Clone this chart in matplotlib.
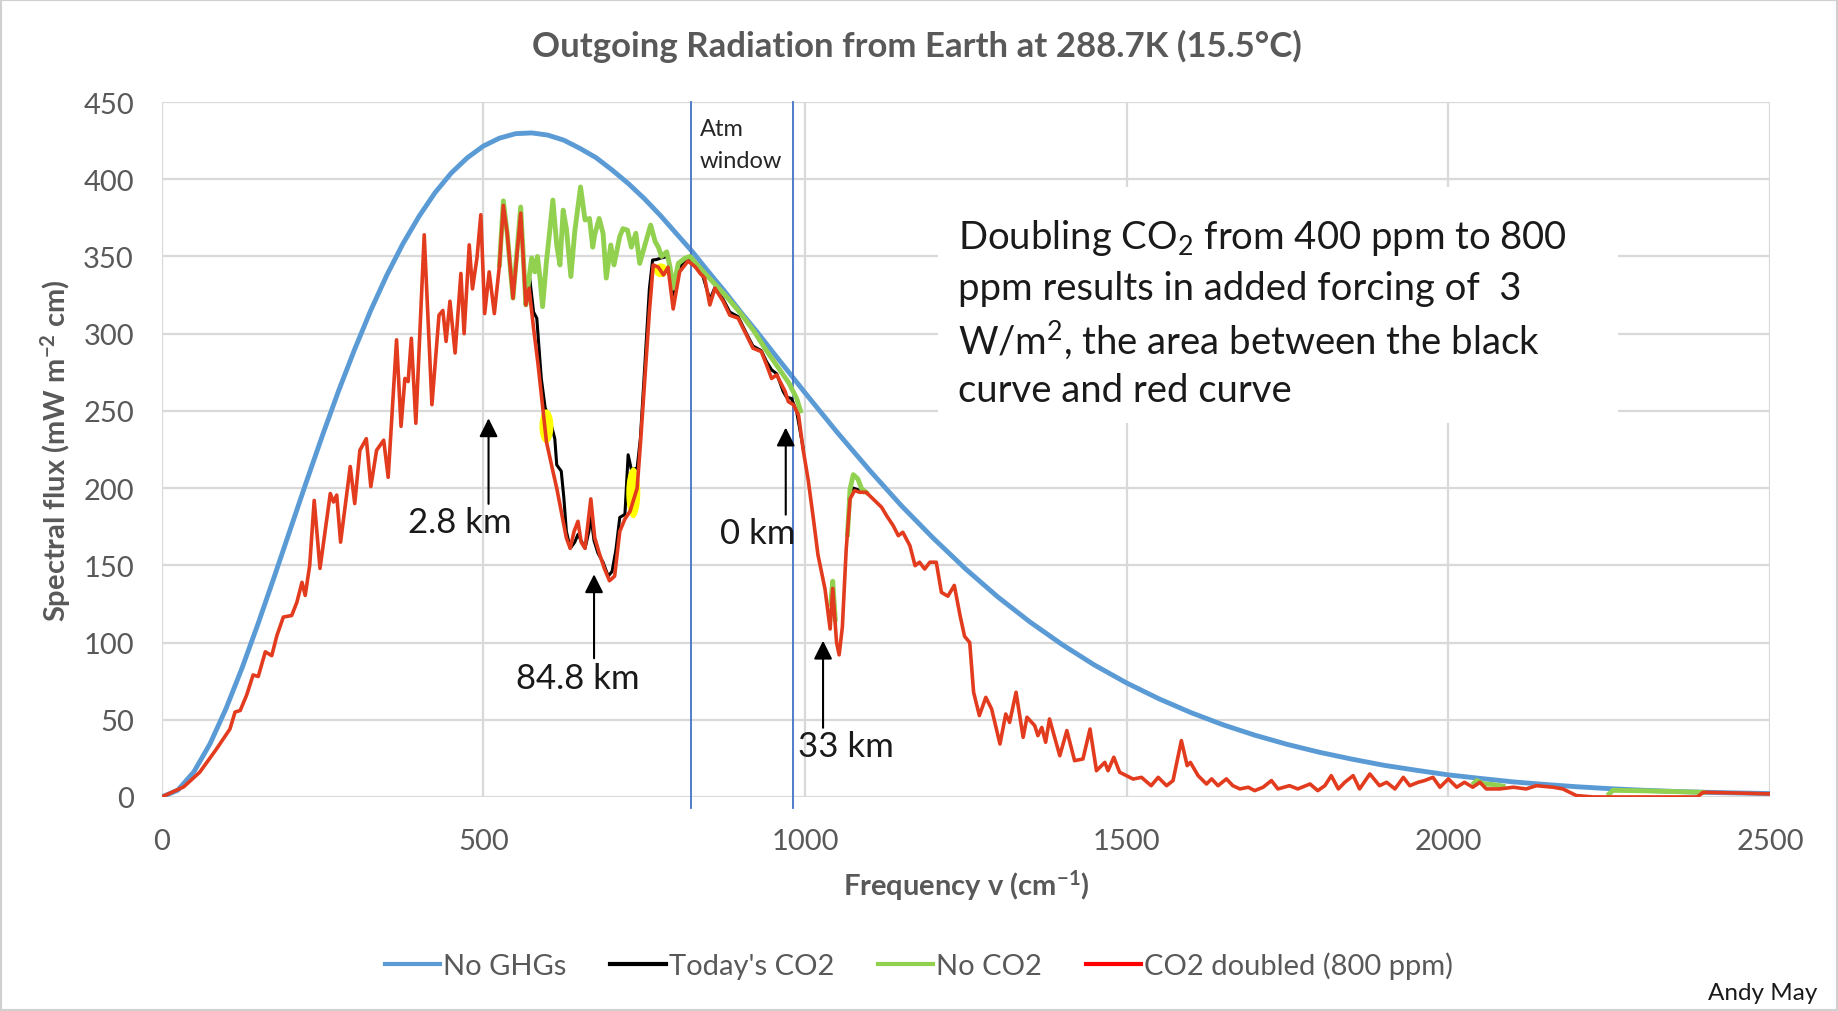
import numpy as np
import matplotlib
matplotlib.use("Agg")
import matplotlib.pyplot as plt
from matplotlib.lines import Line2D
from matplotlib.patches import Rectangle
from matplotlib.path import Path

plt.rcParams['font.family'] = ['Lato', 'DejaVu Sans']
plt.rcParams['mathtext.fontset'] = 'custom'
plt.rcParams['mathtext.rm'] = 'Lato'
plt.rcParams['mathtext.it'] = 'Lato:italic'
plt.rcParams['mathtext.bf'] = 'Lato:bold'

# --- data (frequency in cm-1, flux in mW m-2 cm) ---
blue_x = [0, 25, 50, 75, 100, 125, 150, 175, 200, 225, 250, 275, 300, 325, 350, 375,
          400, 425, 450, 475, 500, 525, 550, 575, 600, 625, 650, 675, 700, 725, 750,
          775, 800, 825, 850, 875, 900, 925, 950, 975, 1000, 1050, 1100, 1150, 1200,
          1250, 1300, 1350, 1400, 1450, 1500, 1550, 1600, 1650, 1700, 1750, 1800,
          1850, 1900, 1950, 2000, 2050, 2100, 2150, 2200, 2250, 2300, 2350, 2400,
          2450, 2500]
blue_y = [0, 4.4, 16.3, 34.4, 57.3, 83.7, 112.5, 142.7, 173.5, 204.3, 234.3, 263.1,
          290, 315.2, 338, 358.3, 376, 391.4, 404, 413.9, 421.5, 426.6, 429.5, 430,
          428.6, 425.3, 420, 414, 406, 397.3, 387.5, 376.6, 364.8, 353, 340, 327.4,
          314, 301.3, 288, 274.9, 261.7, 236.1, 211.7, 188.5, 167.3, 147.5, 129.4,
          113.2, 98.6, 85.4, 73.8, 63.6, 54.6, 46.7, 39.9, 34, 28.9, 24.5, 20.5, 17.3,
          14.3, 12, 9.8, 8.1, 6.6, 5.4, 4.4, 3.6, 3.0, 2.6, 2.2]

red_x = [0, 34, 59, 85, 106, 114, 122, 132, 142, 150, 161, 171, 179, 189, 202, 210,
         218, 223, 230, 237, 246, 262, 267, 272, 278, 293, 300, 308, 318, 325, 334,
         345, 352, 365, 372, 378, 383, 388, 395, 408, 420, 431, 437, 442, 448, 456,
         465, 470, 478, 483, 490, 496, 502, 509, 517, 525, 531, 537, 546, 558, 566,
         571, 578, 585, 593, 598, 608, 614, 621, 629, 635, 641, 647, 652, 658, 667,
         673, 680, 688, 696, 704, 712, 720, 728, 739, 744, 751, 758, 764, 772, 780,
         787, 795, 805, 818, 829, 837, 844, 852, 860, 873, 883, 896, 909, 919, 932,
         940, 948, 956, 969, 974, 982, 990, 997, 1005, 1013, 1020, 1031, 1039, 1043,
         1049, 1053, 1058, 1064, 1070, 1077, 1085, 1095, 1108, 1119, 1127, 1137,
         1145, 1152, 1163, 1171, 1178, 1186, 1194, 1204, 1212, 1222, 1232, 1241,
         1248, 1256, 1262, 1271, 1281, 1290, 1303, 1312, 1318, 1328, 1339, 1345,
         1357, 1362, 1368, 1374, 1380, 1396, 1407, 1419, 1432, 1443, 1453, 1466,
         1471, 1480, 1489, 1510, 1523, 1538, 1549, 1562, 1572, 1585, 1594, 1599,
         1611, 1624, 1632, 1642, 1655, 1665, 1676, 1689, 1699, 1712, 1725, 1735,
         1753, 1766, 1785, 1797, 1808, 1818, 1829, 1839, 1852, 1862, 1878, 1893,
         1904, 1917, 1930, 1940, 1953, 1963, 1976, 1987, 2000, 2013, 2025, 2038,
         2049, 2059, 2080, 2101, 2121, 2137, 2163, 2178, 2199, 2225, 2387, 2396,
         2443, 2500]
red_y = [0, 6.5, 16, 31, 44, 55, 56, 66, 79, 78, 94, 91.5, 104.5, 116.5, 117.5, 126,
         139, 130.5, 150, 192, 148, 196.5, 191, 195.5, 165, 214, 190, 224.5, 232, 201,
         224.5, 231, 207, 296, 240, 271, 269, 297, 242, 364, 254, 312, 315, 295, 321,
         287.5, 339, 300, 357.5, 329, 349, 377, 313, 340, 313, 344.5, 383, 365, 323,
         378, 318.6, 329.4, 303.5, 280, 249.6, 230, 211, 200, 185, 167.7, 161, 172,
         178.5, 165, 161, 193, 168, 158, 148, 140, 143, 172, 180, 185, 200, 228, 271,
         314, 344.5, 343, 338, 343, 316, 340, 347, 343.4, 339, 336, 318.6, 329.4,
         320.8, 312, 310, 299, 290.6, 288.4, 280, 271, 273.3, 262.6, 256, 254, 247,
         225, 205, 180, 157, 134.7, 108.8, 135, 100, 92, 110, 160.6, 193, 198.4,
         197.3, 197.3, 192, 187.6, 182, 175.7, 169.2, 171.4, 162.7, 149.8, 152,
         147.6, 152, 152, 132.5, 130, 137, 117.4, 104, 100, 67.8, 52.7, 64.5, 57,
         34.3, 53.7, 48.3, 67.8, 38.6, 51.6, 46.2, 39.7, 45, 35.4, 50.5, 26.7, 43,
         23.5, 24.6, 44, 17, 22.4, 17, 25.7, 16, 11.6, 12.7, 7.3, 12.7, 7.3, 10.6,
         36.5, 20.3, 22.4, 13.8, 8.4, 11.7, 7.3, 11.7, 7.3, 5.2, 6.3, 4.1, 6.3, 10.6,
         5.2, 7.3, 5.2, 8.4, 4.1, 7.3, 13.8, 5.2, 9.5, 13.8, 5.2, 14.9, 7.3, 9.5,
         5.2, 12.7, 7.3, 9.5, 10.6, 12.7, 6.3, 11.7, 6.3, 9.5, 6.3, 9.5, 5.2, 5.2,
         6.3, 5.2, 7.3, 6.3, 5.2, 0.9, 0, 0, 3, 2.6, 2]

# "Today's CO2" where it separates from the doubled curve (NaN = gap)
black_x = [566, 572, 578, 583, 590, 596, 603, 611, 614, 621, 625, 629, 635, 642, 647,
           652, 658, 664, 667, 672, 678, 686, 694, 700, 706, 712, 720, 725, 730, 739,
           744, 751, 758, 763, 769, 776, 787, 795, 805, 818, 829, 840, 852, 860, 873,
           883, 896, 909, 919, 932, 940, 948, 956, 966, 971, 979, 987, 997, np.nan,
           1068, 1075, 1082, 1090]
black_y = [318.6, 336, 314, 310, 271, 252, 245, 232, 215, 211, 194, 172, 161, 165, 170,
           166, 161, 172, 182, 166, 158, 152, 143, 146, 160, 181, 183, 221.6, 212, 213,
           232, 280, 329, 347.7, 348, 349, 350, 325, 343, 348, 345, 339, 322, 330, 322,
           314, 311, 300, 292, 289, 282, 276.6, 274, 262.6, 259, 258, 249.4, 226, np.nan,
           193, 200, 199, 197.3]

# "No CO2" where it shows above the other curves
green_x = [525, 531, 537, 546, 558, 566, 571, 575, 580, 584, 588, 592, 598, 603, 608,
           614, 619, 624, 629, 636, 642, 651, 658, 665, 670, 673, 680, 686, 691, 698,
           703, 712, 717, 724, 730, 737, 743, 754, 760, 767, 772, 777, 785, 790, 795,
           803, 813, 821, 840, 860, 880, 900, 920, 940, 960, 975, 987, 993,
           np.nan, 1040, 1043, 1047, np.nan, 1066, 1070, 1075, 1082, 1088, 1095,
           np.nan, 2040, 2044, 2055, 2070, 2085, np.nan, 2250, 2256, 2300, 2350, 2396]
green_y = [344.5, 386, 365, 323, 382, 318.6, 336, 349, 340, 350, 336, 317.5, 346.6, 366,
           386.5, 357.4, 344.5, 380, 368, 337, 366, 395, 373.6, 374.6, 356, 364, 374.6,
           365, 336, 357.4, 344.5, 363, 368, 367, 356, 365, 345.5, 361.7, 370.3, 359.6,
           356, 350, 353, 343.4, 329.4, 345.5, 348.8, 350, 341, 332, 323, 313, 302, 289,
           277, 268, 258, 250, np.nan, 125, 139.7, 115, np.nan, 170, 199.5, 208.7,
           206, 199.5, 197.3, np.nan, 9, 10.6, 8.5, 8, 7, np.nan, 2, 4.3, 4, 3.5, 3]

# yellow highlight blobs (centre x, centre y, height in flux units)
highlight_x = [598, 733, 776]
highlight_y = [240, 197, 341]
highlight_h = [22, 33, 9]

atm_window = [822, 981]

labels = ["2.8 km", "84.8 km", "0 km", "33 km"]
arrow_x = [508, 672, 970, 1028]
arrow_head = [247, 146, 241, 103]
arrow_tail = [188, 88, 181, 43]
label_x = [464, 647, 927, 1064]
label_y = [178, 77, 171, 33]

box_lines = [r"Doubling CO$_\mathregular{2}$ from 400 ppm to 800",
             "ppm results in added forcing of  3",
             r"W/m$^\mathregular{2}$, the area between the black",
             "curve and red curve"]

gray = '#595959'

fig = plt.figure(figsize=(18.38, 10.12), dpi=100)
ax = fig.add_axes([0.088, 0.2115, 0.875, 0.6867])
ax.set_xlim(0, 2500)
ax.set_ylim(0, 450)
ax.set_xticks(np.arange(0, 2501, 500))
ax.set_yticks(np.arange(0, 451, 50))
ax.set_axisbelow(True)
ax.grid(color='#d9d9d9', lw=1.6)
for s in ax.spines.values():
    s.set_visible(False)
ax.tick_params(length=0, labelsize=21, labelcolor=gray)
ax.tick_params(axis='x', pad=22)
ax.tick_params(axis='y', pad=20)

# white box behind the note
ax.add_patch(Rectangle((1207, 242), 1057, 153, facecolor='white', edgecolor='none', zorder=1))

ax.plot(blue_x, blue_y, color='#5B9BD5', lw=3.5, zorder=2)
ax.plot(black_x, black_y, color='black', lw=2.2, zorder=3)
ax.plot(green_x, green_y, color='#92D050', lw=3.5, zorder=3)

# yellow blobs (ellipse marker)
t = np.linspace(0, 2 * np.pi, 40)
for hx, hy, hh in zip(highlight_x, highlight_y, highlight_h):
    h_px = hh * 1.5444
    w_px = 14
    ell = Path(np.column_stack([np.cos(t) * w_px / max(h_px, w_px),
                                np.sin(t) * h_px / max(h_px, w_px)]))
    ax.scatter([hx], [hy], marker=ell, s=(max(h_px, w_px) * 0.72) ** 2, color='#FFFF00',
               edgecolor='none', zorder=3.5)

ax.plot(red_x, red_y, color='#E23B1E', lw=2.6, zorder=4)

for xv in atm_window:
    ax.plot([xv, xv], [-7, 450], color='#4472C4', lw=1.3, clip_on=False, zorder=2.5)
ax.text(836, 433, "Atm", fontsize=17, color='#262626', va='center')
ax.text(836, 412, "window", fontsize=17, color='#262626', va='center')

for lab, ax_, hy, ty, lx, ly in zip(labels, arrow_x, arrow_head, arrow_tail, label_x, label_y):
    ax.annotate('', xy=(ax_, hy), xytext=(ax_, ty),
                arrowprops=dict(arrowstyle='-|>', color='black', lw=1.5, mutation_scale=28),
                zorder=5)
    ax.text(lx, ly, lab, fontsize=25, ha='center', va='center', color='#1a1a1a', zorder=5)

for i, line in enumerate(box_lines):
    ax.text(1238, 362.6 - i * 33, line, fontsize=27.5, ha='left', va='center',
            color='#1a1a1a', zorder=5)

ax.set_xlabel(r"Frequency v (cm$^\mathregular{-1}$)", fontsize=21, fontweight='bold', color=gray)
ax.xaxis.set_label_coords(0.5, -(886 - 798) / 695)
ax.xaxis.label.set_va('center')
ax.set_ylabel(r"Spectral flux (mW m$^\mathregular{-2}$ cm)", fontsize=21, fontweight='bold', color=gray)
ax.yaxis.set_label_coords((56 - 161.8) / 1608, 0.5)
ax.yaxis.label.set_va('center')

fig.text(0.499, 1 - 46 / 1012, "Outgoing Radiation from Earth at 288.7K (15.5°C)",
         fontsize=25, fontweight='bold', color=gray, ha='center', va='center')

handles = [Line2D([], [], color='#5B9BD5', lw=3),
           Line2D([], [], color='black', lw=3),
           Line2D([], [], color='#92D050', lw=3),
           Line2D([], [], color='#FF0000', lw=3)]
fig.legend(handles, ["No GHGs", "Today's CO2", "No CO2", "CO2 doubled (800 ppm)"],
           loc='center', bbox_to_anchor=(0.5, 1 - 966 / 1012), ncol=4, frameon=False,
           fontsize=21, labelcolor=gray, handlelength=1.9, handletextpad=0.1,
           columnspacing=1.5)

fig.text(0.989, 1 - 994 / 1012, "Andy May", fontsize=17.5, ha='right', va='center', color='#1a1a1a')

fig.patches.append(Rectangle((0, 0), 1, 1, transform=fig.transFigure, fill=False,
                             edgecolor='#d0d0d0', lw=3))

fig.savefig('out.png', dpi=100)
